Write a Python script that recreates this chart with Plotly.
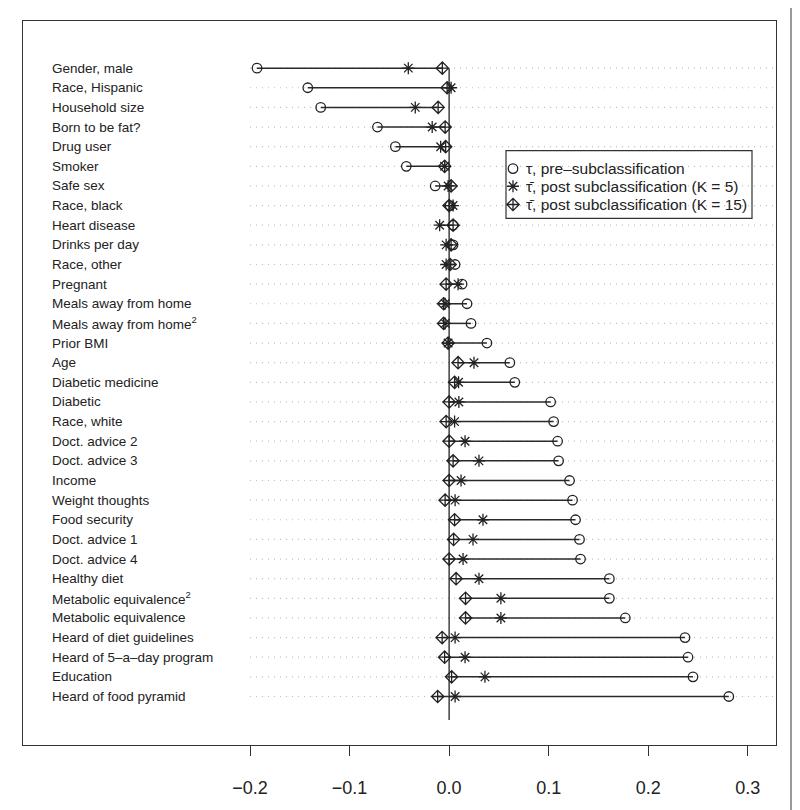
import plotly.graph_objects as go

labels = ["Gender, male", "Race, Hispanic", "Household size", "Born to be fat?", "Drug user",
          "Smoker", "Safe sex", "Race, black", "Heart disease", "Drinks per day", "Race, other",
          "Pregnant", "Meals away from home", "Meals away from home<sup>2</sup>", "Prior BMI", "Age",
          "Diabetic medicine", "Diabetic", "Race, white", "Doct. advice 2", "Doct. advice 3",
          "Income", "Weight thoughts", "Food security", "Doct. advice 1", "Doct. advice 4",
          "Healthy diet", "Metabolic equivalence<sup>2</sup>", "Metabolic equivalence",
          "Heard of diet guidelines", "Heard of 5\u2013a\u2013day program", "Education",
          "Heard of food pyramid"]

tau_pre = [-0.193, -0.142, -0.129, -0.072, -0.054, -0.043, -0.014, 0.001, 0.004, 0.004, 0.006,
           0.013, 0.018, 0.022, 0.038, 0.061, 0.066, 0.102, 0.105, 0.109, 0.110, 0.121, 0.124,
           0.127, 0.131, 0.132, 0.161, 0.161, 0.177, 0.237, 0.240, 0.245, 0.281]

tau_k5 = [-0.041, 0.002, -0.034, -0.017, -0.0085, -0.0045, -0.001, 0.004, -0.0095, -0.003, -0.003,
          0.009, -0.004, -0.004, -0.001, 0.025, 0.0095, 0.0098, 0.0055, 0.016, 0.030, 0.012, 0.006,
          0.034, 0.024, 0.014, 0.030, 0.052, 0.052, 0.006, 0.016, 0.036, 0.006]

tau_k15 = [-0.0068, -0.002, -0.011, -0.004, -0.0035, -0.0045, 0.002, 0.0, 0.004, 0.002, 0.001,
           -0.003, -0.0055, -0.0055, -0.001, 0.009, 0.0055, 0.0, -0.003, 0.0, 0.004, 0.0, -0.004,
           0.0055, 0.0045, 0.0, 0.007, 0.0165, 0.0165, -0.007, -0.0045, 0.0025, -0.0115]

tick_vals = [-0.2, -0.1, 0.0, 0.1, 0.2, 0.3]
tick_text = ["\u22120.2", "\u22120.1", "0.0", "0.1", "0.2", "0.3"]

legend_names = ["\u03c4, pre\u2013subclassification",
                "\u03c4\u0304, post subclassification (K = 5)",
                "\u03c4\u0304, post subclassification (K = 15)"]

n = len(labels)
ypos = [n - i for i in range(n)]

FONT = "Liberation Sans, Arial, Helvetica, sans-serif"
INK = "#222222"

SYM = [dict(symbol="circle-open", size=9.5, color=INK, line=dict(width=1.3, color=INK)),
       dict(symbol="asterisk-open", size=10, color=INK, line=dict(width=1.3, color=INK)),
       dict(symbol="diamond-cross-open", size=9.5, color=INK, line=dict(width=1.3, color=INK))]

fig = go.Figure()

# segments
sx, sy = [], []
for a, b, c, y in zip(tau_pre, tau_k5, tau_k15, ypos):
    sx += [min(a, b, c), max(a, b, c), None]
    sy += [y, y, None]
fig.add_trace(go.Scatter(x=sx, y=sy, mode="lines", line=dict(color="#2a2a2a", width=1.5),
                         showlegend=False, hoverinfo="skip"))

for vals, name, sym in zip([tau_pre, tau_k5, tau_k15], legend_names, SYM):
    fig.add_trace(go.Scatter(x=vals, y=ypos, mode="markers", name=name, marker=sym,
                             showlegend=False))

# manual legend on an overlay axis measured in pixels of the plot box
leg_y = [169, 186.7, 205]
for yy, sym in zip(leg_y, SYM):
    fig.add_trace(go.Scatter(x=[513], y=[yy], xaxis="x2", yaxis="y2", mode="markers",
                             marker=sym, showlegend=False, hoverinfo="skip"))

shapes = []
for y in ypos:
    shapes.append(dict(type="line", xref="x", yref="y", x0=-0.2, x1=0.3284, y0=y, y1=y,
                       line=dict(color="#bdbdbd", width=1.2, dash="1px,5px"), layer="below"))
shapes.append(dict(type="line", xref="x", yref="y", x0=0, x1=0, y0=-0.2, y1=n,
                   line=dict(color=INK, width=1.3), layer="below"))
shapes.append(dict(type="line", xref="paper", yref="paper", x0=1.0199, x1=1.0199,
                   y0=-0.09, y1=1.04, line=dict(color="#777777", width=1.5)))
shapes.append(dict(type="rect", xref="x2", yref="y2", x0=506, x1=752, y0=151, y1=219,
                   line=dict(color="#333333", width=1.2), fillcolor="rgba(0,0,0,0)"))

annotations = []
for lab, y in zip(labels, ypos):
    annotations.append(dict(x=0.0355, xref="paper", y=y, yref="y", text=lab, showarrow=False,
                            xanchor="left", yanchor="middle",
                            font=dict(family=FONT, size=13.5, color=INK)))
for yy, name in zip(leg_y, legend_names):
    annotations.append(dict(x=524, xref="x2", y=yy, yref="y2", text=name, showarrow=False,
                            xanchor="left", yanchor="middle",
                            font=dict(family=FONT, size=15.5, color=INK)))

fig.update_layout(
    width=792, height=802, autosize=False,
    margin=dict(l=15, r=24, t=13, b=63),
    paper_bgcolor="white", plot_bgcolor="white",
    font=dict(family=FONT, color=INK),
    shapes=shapes, annotations=annotations, showlegend=False,
    xaxis=dict(range=[-0.4281, 0.3284], tickvals=tick_vals, ticktext=tick_text,
               showgrid=False, zeroline=False, showline=True, mirror=True,
               linecolor="#333333", linewidth=1.2, ticks="outside", ticklen=10,
               tickcolor="#333333", tickwidth=1.2, ticklabelstandoff=16,
               tickfont=dict(family=FONT, size=18, color=INK)),
    yaxis=dict(range=[-1.47, 35.4], showgrid=False, zeroline=False, showticklabels=False,
               showline=True, mirror=True, linecolor="#333333", linewidth=1.2, ticks=""),
    xaxis2=dict(range=[23, 776], overlaying="x", anchor="y2", visible=False),
    yaxis2=dict(range=[747, 21], overlaying="y", anchor="x2", visible=False),
)

fig.write_html("out.html")
